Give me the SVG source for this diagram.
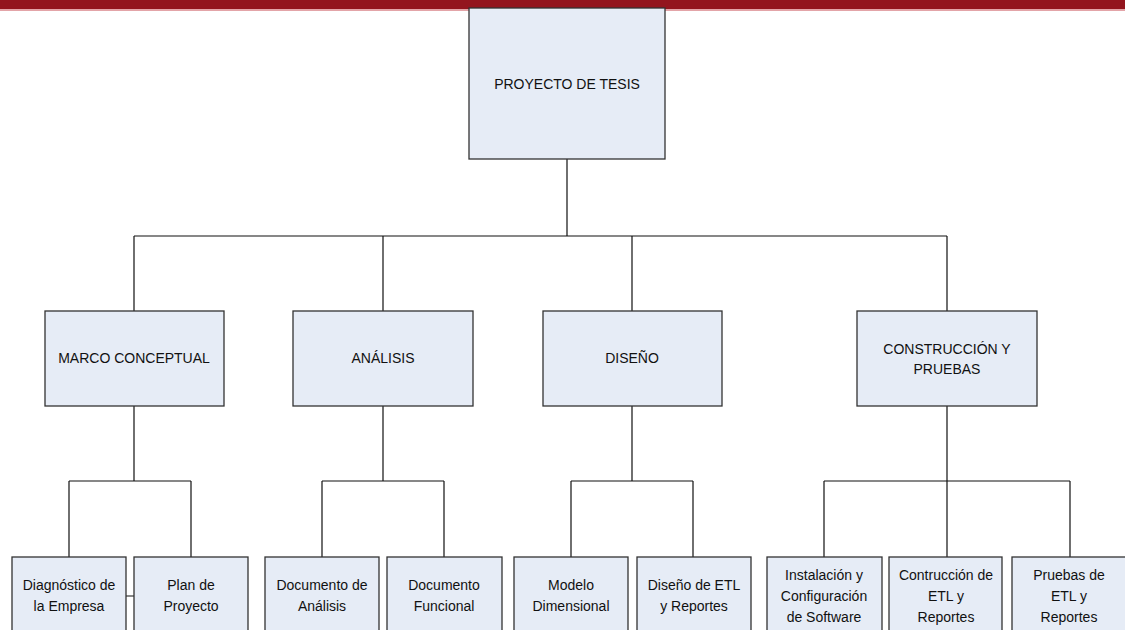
<svg xmlns="http://www.w3.org/2000/svg" width="1125" height="630" viewBox="0 0 1125 630">
<style>
.box{fill:#e6ecf6;stroke:#333;stroke-width:1.3}
.t{font-family:"Liberation Sans",Arial,sans-serif;font-size:14px;fill:#111;text-anchor:middle}
.c{stroke:#111;stroke-width:1.2;fill:none}
</style>
<rect x="0" y="0" width="1125" height="9" fill="#93151e"/>
<rect x="0" y="9" width="1125" height="2" fill="#e3a4a8"/>
<g id="connectors">
<path class="c" d="M567 159V236M134 236H947M134 236V311M383 236V311M632 236V311M947 236V311"/>
<path class="c" d="M134 406V481M69 481H191M69 481V557M191 481V557M126 596H134"/>
<path class="c" d="M383 406V481M322 481H444M322 481V557M444 481V557"/>
<path class="c" d="M632 406V481M571 481H693M571 481V557M693 481V557"/>
<path class="c" d="M947 406V481M824 481H1070M824 481V557M947 481V557M1070 481V557"/>
</g>
<g id="root"><rect class="box" x="469" y="8" width="196" height="151"/><text class="t" x="567" y="89">PROYECTO DE TESIS</text></g>
<g id="marco"><rect class="box" x="45" y="311" width="179" height="95"/><text class="t" x="134" y="363">MARCO CONCEPTUAL</text></g>
<g id="analisis"><rect class="box" x="293" y="311" width="180" height="95"/><text class="t" x="383" y="363">ANÁLISIS</text></g>
<g id="diseno"><rect class="box" x="543" y="311" width="179" height="95"/><text class="t" x="632" y="363">DISEÑO</text></g>
<g id="construccion"><rect class="box" x="857" y="311" width="180" height="95"/><text class="t" x="947" y="354">CONSTRUCCIÓN Y</text><text class="t" x="947" y="374">PRUEBAS</text></g>
<g id="diagnostico"><rect class="box" x="12" y="557" width="114" height="80"/><text class="t" x="69" y="590">Diagnóstico de</text><text class="t" x="69" y="611">la Empresa</text></g>
<g id="plan"><rect class="box" x="134" y="557" width="114" height="80"/><text class="t" x="191" y="590">Plan de</text><text class="t" x="191" y="611">Proyecto</text></g>
<g id="docanalisis"><rect class="box" x="265" y="557" width="114" height="80"/><text class="t" x="322" y="590">Documento de</text><text class="t" x="322" y="611">Análisis</text></g>
<g id="docfuncional"><rect class="box" x="387" y="557" width="115" height="80"/><text class="t" x="444" y="590">Documento</text><text class="t" x="444" y="611">Funcional</text></g>
<g id="modelo"><rect class="box" x="514" y="557" width="114" height="80"/><text class="t" x="571" y="590">Modelo</text><text class="t" x="571" y="611">Dimensional</text></g>
<g id="disenoetl"><rect class="box" x="637" y="557" width="114" height="80"/><text class="t" x="694" y="590">Diseño de ETL</text><text class="t" x="694" y="611">y Reportes</text></g>
<g id="instalacion"><rect class="box" x="767" y="557" width="115" height="80"/><text class="t" x="824" y="580">Instalación y</text><text class="t" x="824" y="601">Configuración</text><text class="t" x="824" y="622">de Software</text></g>
<g id="contruccion"><rect class="box" x="889" y="557" width="113" height="80"/><text class="t" x="946" y="580">Contrucción de</text><text class="t" x="946" y="601">ETL y</text><text class="t" x="946" y="622">Reportes</text></g>
<g id="pruebas"><rect class="box" x="1012" y="557" width="114" height="80"/><text class="t" x="1069" y="580">Pruebas de</text><text class="t" x="1069" y="601">ETL y</text><text class="t" x="1069" y="622">Reportes</text></g>
</svg>
